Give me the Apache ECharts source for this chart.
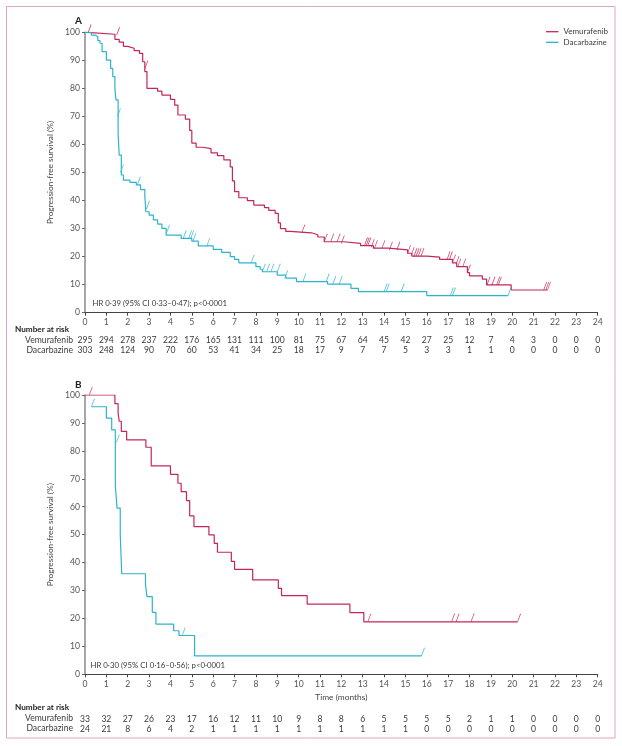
<!DOCTYPE html>
<html>
<head>
<meta charset="utf-8">
<script src="https://cdn.jsdelivr.net/npm/echarts@6/dist/echarts.min.js"></script>
<style>
html,body{margin:0;padding:0;background:#fff;}
#chart{width:622px;height:746px;}
</style>
</head>
<body>
<div id="chart"></div>
<script>
// ---------- data ----------
const months = [0,1,2,3,4,5,6,7,8,9,10,11,12,13,14,15,16,17,18,19,20,21,22,23,24];

// Panel A (all patients) – Kaplan-Meier steps [time, PFS %]
const vemA = [[0,100],[0.1,99.3],[1.4,97.5],[1.6,96.5],[1.8,95],[2.0,94.3],[2.3,93.5],[2.55,92.5],[2.7,89.5],[2.8,86],[2.9,80],[3.4,79],[3.6,77.6],[4.0,76.1],[4.2,74],[4.35,70.5],[4.7,69],[4.9,65],[5.0,60.5],[5.2,59],[5.5,58.5],[5.9,57],[6.2,56],[6.5,54.5],[6.8,52],[6.9,47],[7.0,43.2],[7.2,41],[7.6,40],[7.9,38.4],[8.4,37.5],[8.6,36.5],[8.9,35.4],[9.05,32],[9.15,30],[9.4,29],[9.6,28.5],[10.6,27.8],[10.9,27],[11.2,25.3],[12.1,24.7],[12.9,23.9],[13.5,23],[14.2,22.4],[15.1,21.2],[15.3,20.2],[16.0,19.8],[16.6,19],[17.2,17.8],[17.4,16.4],[17.9,14.3],[18.0,13.1],[18.6,12],[18.8,9.9],[19.95,8.1],[21.65,8.1]];
const vemACens = [[0.15,100],[1.48,99],[2.8,87],[10.15,28.5],[11.2,25.3],[11.5,25.3],[11.8,25.3],[12.0,24.7],[13.08,23.9],[13.16,23.9],[13.24,23.9],[13.4,23.4],[13.55,23],[13.9,23],[14.25,22.4],[14.6,22.4],[15.1,21.2],[15.27,20.5],[15.4,20.2],[15.5,20.2],[15.6,20.2],[15.73,20.2],[16.95,19],[17.06,19],[17.2,17.8],[17.37,17.3],[17.45,16.4],[17.68,16.4],[17.9,14.3],[18.82,9.9],[19.05,9.9],[19.27,9.9],[19.35,9.9],[21.47,8.1],[21.57,8.1],[21.65,8.1]];
const dacA = [[0,100],[0.3,99],[0.5,98.4],[0.6,97],[0.7,96.1],[0.8,93.1],[1.0,90.1],[1.2,87.1],[1.3,84.2],[1.4,80],[1.45,75.9],[1.55,64],[1.6,56.2],[1.7,49.1],[1.8,47.3],[2.1,46.5],[2.4,45.6],[2.6,43.9],[2.8,41.6],[2.85,36],[3.0,34.8],[3.2,33.1],[3.4,31.6],[3.6,30.1],[3.8,27.7],[4.5,26.5],[5.0,25.5],[5.3,23.8],[6.0,22.6],[6.4,21.5],[6.8,20],[7.0,19],[7.2,17.8],[8.0,16.4],[8.2,15.5],[8.3,14.6],[9.0,13.4],[9.4,12.3],[9.9,11.1],[11.35,10.2],[12.45,8.7],[12.8,7.5],[16.0,6.1],[19.8,6.1]];
const dacACens = [[1.52,70],[1.66,50],[2.45,45.6],[2.88,37],[3.82,28.5],[4.6,26.5],[4.85,26.5],[4.95,26.5],[5.05,25.5],[5.7,23.8],[7.78,17.8],[8.3,14.6],[8.5,14.6],[8.7,14.6],[9.0,14.6],[9.35,12.3],[10.2,11.1],[11.29,11.1],[11.6,10.2],[11.9,10.2],[14.0,7.5],[14.1,7.5],[14.8,7.5],[17.1,6.1],[17.2,6.1],[19.8,6.1]];

// Panel B – steps [time, PFS %]
const vemB = [[0,100],[1.4,96.9],[1.55,93.6],[1.6,90.6],[1.7,87],[1.95,83.9],[2.85,81.3],[3.1,74.6],[4.0,71.6],[4.35,68.4],[4.5,65.4],[4.75,62.2],[4.9,56.7],[5.1,52.9],[5.8,49.9],[6.05,46.9],[6.2,43.7],[6.85,40.4],[7.0,37.6],[7.85,33.8],[9.05,30.8],[9.2,28.2],[10.4,25.1],[12.4,22.1],[13.05,18.8],[20.25,18.8]];
const vemBCens = [[0.2,100],[13.24,18.8],[17.16,18.8],[17.37,18.8],[18.07,18.8],[20.25,18.8]];
const dacB = [[0.3,95.8],[1.0,91.7],[1.25,87.5],[1.42,67.5],[1.5,59.5],[1.65,50],[1.72,36],[2.83,32.3],[2.9,27.8],[3.15,22.2],[3.32,18],[4.15,15.6],[4.4,13.9],[5.13,6.6],[15.75,6.6]];
const dacBCens = [[0.3,95.8],[1.47,83],[4.55,13.9],[15.75,6.6]];

// Number at risk
const riskVemA = [295,294,278,237,222,176,165,131,111,100,81,75,67,64,45,42,27,25,12,7,4,3,0,0,0];
const riskDacA = [303,248,124,90,70,60,53,41,34,25,18,17,9,7,7,5,3,3,1,1,0,0,0,0,0];
const riskVemB = [33,32,27,26,23,17,16,12,11,10,9,8,8,6,5,5,5,5,2,1,1,0,0,0,0];
const riskDacB = [24,21,8,6,4,2,1,1,1,1,1,1,1,1,1,1,0,0,0,0,0,0,0,0,0];

const yTicks = [0,10,20,30,40,50,60,70,80,90,100];
const hrA = 'HR 0·39 (95% CI 0·33–0·47); p<0·0001';
const hrB = 'HR 0·30 (95% CI 0·16–0·56); p<0·0001';

// ---------- styling ----------
const VEM = '#c3265c';
const DAC = '#2db4cd';
const FONT = 'Lato';
const TXT = '#3a3a3a';
const censorSymbol = 'path://M0,8L3,0';

function mainX(gridIndex, withName){
  return {
    type:'value', gridIndex, min:0, max:24, interval:1,
    axisLine:{show:true, onZero:false, lineStyle:{color:'#444', width:1}},
    axisTick:{show:true, length:3, lineStyle:{color:'#444'}},
    axisLabel:{color:'#555', fontFamily:FONT, fontSize:8.6, margin:5,
      formatter:v => String(months[v])},
    splitLine:{show:false},
    name: withName ? 'Time (months)' : '',
    nameLocation:'middle', nameGap:19,
    nameTextStyle:{color:'#444', fontFamily:FONT, fontSize:8.4}
  };
}
function riskX(gridIndex, arr, offset){
  return {
    type:'value', gridIndex, min:0, max:24, interval:1, position:'bottom', offset,
    axisLine:{show:false}, axisTick:{show:false}, splitLine:{show:false},
    axisLabel:{color:TXT, fontFamily:FONT, fontSize:8.6, margin:0, lineHeight:10,
      showMinLabel:true, showMaxLabel:true,
      formatter:v => String(arr[v])}
  };
}
function yAx(gridIndex){
  return {
    type:'value', gridIndex, min:0, max:100, interval:10,
    axisLine:{show:true, lineStyle:{color:'#8a8a8a', width:1.5}},
    axisTick:{show:true, length:3, lineStyle:{color:'#666'}},
    axisLabel:{color:'#555', fontFamily:FONT, fontSize:8.6, margin:5,
      formatter:v => String(yTicks[v/10])},
    splitLine:{show:false},
    name:'Progression-free survival (%)', nameLocation:'middle', nameGap:26,
    nameTextStyle:{color:'#444', fontFamily:FONT, fontSize:8.3}
  };
}
function lineS(name, data, color, xi, yi){
  return {type:'line', name, data, step:'end', xAxisIndex:xi, yAxisIndex:yi,
    showSymbol:false, symbol:'none', lineStyle:{color, width:1.2}, itemStyle:{color},
    emphasis:{disabled:true}, silent:true, z:3};
}
function censS(name, data, color, xi, yi){
  return {type:'scatter', name, data, xAxisIndex:xi, yAxisIndex:yi,
    symbol:censorSymbol, symbolSize:[3,8], symbolOffset:[1.5,-4],
    itemStyle:{color:'rgba(0,0,0,0)', borderColor:color, borderWidth:1},
    emphasis:{disabled:true}, silent:true, z:4};
}
function txt(x, y, text, opts){
  return Object.assign({type:'text', x, y, silent:true,
    style:Object.assign({text, fill:TXT, font:'8.6px '+FONT, textVerticalAlign:'middle'}, opts||{})});
}

const chart = echarts.init(document.getElementById('chart'), null, {renderer:'canvas'});
chart.setOption({
  animation:false,
  backgroundColor:'#fff',
  grid:[
    {left:85, top:32.3, width:512.7, height:280.4},
    {left:85, top:395, width:512.7, height:279.3}
  ],
  xAxis:[
    mainX(0,false), riskX(0,riskVemA,23), riskX(0,riskDacA,33),
    mainX(1,true), riskX(1,riskVemB,39.5), riskX(1,riskDacB,49.5)
  ],
  yAxis:[yAx(0), yAx(1)],
  legend:{
    data:['Vemurafenib','Dacarbazine'], orient:'vertical', left:546, top:26.7, padding:0,
    icon:'rect', itemWidth:12.5, itemHeight:1.3, itemGap:0.6,
    textStyle:{color:TXT, fontFamily:FONT, fontSize:8, lineHeight:10},
    selectedMode:false
  },
  series:[
    lineS('Vemurafenib', vemA, VEM, 0, 0),
    lineS('Dacarbazine', dacA, DAC, 0, 0),
    censS('vemA-c', vemACens, VEM, 0, 0),
    censS('dacA-c', dacACens, DAC, 0, 0),
    lineS('Vemurafenib', vemB, VEM, 3, 1),
    lineS('Dacarbazine', dacB, DAC, 3, 1),
    censS('vemB-c', vemBCens, VEM, 3, 1),
    censS('dacB-c', dacBCens, DAC, 3, 1)
  ],
  graphic:[
    {type:'rect', shape:{x:6.5, y:6.5, width:608.5, height:731.5}, silent:true,
      style:{fill:'none', stroke:'#dba7c6', lineWidth:1}},
    txt(75, 21, 'A', {font:'bold 10px '+FONT, fill:'#222'}),
    txt(75, 385, 'B', {font:'bold 10px '+FONT, fill:'#222'}),
    txt(92.5, 303.3, hrA, {font:'7.8px '+FONT}),
    txt(90.5, 665.7, hrB, {font:'7.8px '+FONT}),
    txt(15, 329.3, 'Number at risk', {font:'bold 8.2px '+FONT, fill:'#222'}),
    txt(73, 340.7, 'Vemurafenib', {textAlign:'right'}),
    txt(73, 350.7, 'Dacarbazine', {textAlign:'right'}),
    txt(15, 707.7, 'Number at risk', {font:'bold 8.2px '+FONT, fill:'#222'}),
    txt(73, 718.7, 'Vemurafenib', {textAlign:'right'}),
    txt(73, 728.7, 'Dacarbazine', {textAlign:'right'})
  ]
});
</script>
</body>
</html>
